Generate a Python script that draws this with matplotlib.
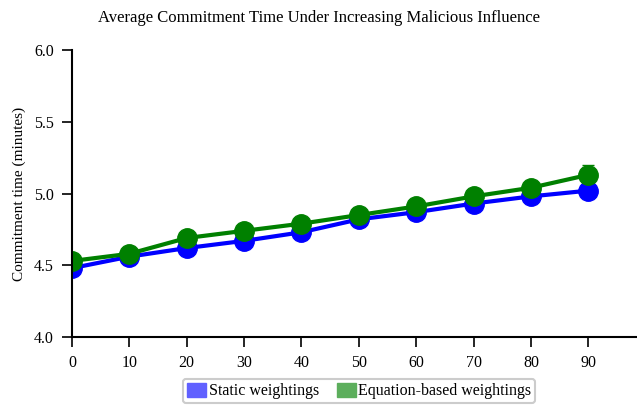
import matplotlib
matplotlib.use("Agg")
import matplotlib.pyplot as plt
from matplotlib.patches import Patch

plt.rcParams['font.family'] = ['Liberation Serif', 'DejaVu Serif']

# 恶意影响比例（%）
malicious_pct = [0, 10, 20, 30, 40, 50, 60, 70, 80, 90]
# 平均提交时间（分钟）
static_time = [4.48, 4.56, 4.62, 4.67, 4.73, 4.82, 4.87, 4.93, 4.98, 5.02]
static_err = [0.02, 0.02, 0.02, 0.02, 0.02, 0.02, 0.02, 0.02, 0.02, 0.03]
equation_time = [4.53, 4.58, 4.69, 4.74, 4.79, 4.85, 4.91, 4.98, 5.04, 5.13]
equation_err = [0.02, 0.02, 0.02, 0.02, 0.02, 0.02, 0.02, 0.02, 0.02, 0.07]

fig = plt.figure(figsize=(6.37, 4.07), dpi=100)
ax = fig.add_axes([0.113, 0.172, 0.887, 0.705])

ax.errorbar(malicious_pct, static_time, yerr=static_err, color="blue",
            marker="o", markersize=14, linewidth=3, capsize=4, elinewidth=2)
ax.errorbar(malicious_pct, equation_time, yerr=equation_err, color="green",
            marker="o", markersize=14, linewidth=3, capsize=4, elinewidth=2)

ax.set_xlim(0, 98.5)
ax.set_ylim(4.0, 6.0)
ax.set_xticks(malicious_pct)
ax.set_yticks([4.0, 4.5, 5.0, 5.5, 6.0])
ax.set_yticklabels(["4.0", "4.5", "5.0", "5.5", "6.0"])
ax.tick_params(labelsize=11.5, width=1.2, length=7, pad=6)
ax.spines["top"].set_visible(False)
ax.spines["right"].set_visible(False)
ax.spines["left"].set_linewidth(1.5)
ax.spines["bottom"].set_linewidth(1.5)
ax.set_ylabel("Commitment time (minutes)", fontsize=11, labelpad=6)

fig.text(0.5, 0.957, "Average Commitment Time Under Increasing Malicious Influence",
         ha="center", va="center", fontsize=12)

handles = [Patch(facecolor="#6060ff", edgecolor="#6060ff"),
           Patch(facecolor="#5cae5c", edgecolor="#5cae5c")]
leg = fig.legend(handles, ["Static weightings", "Equation-based weightings"],
                 loc="center", bbox_to_anchor=(0.564, 0.039), ncol=2, fontsize=11.5,
                 handlelength=1.2, handleheight=1.0, handletextpad=0.15,
                 columnspacing=1.1, borderpad=0.25, fancybox=True,
                 edgecolor="#cccccc", framealpha=1)
leg.get_frame().set_linewidth(1.5)

fig.savefig("out.png", dpi=100)
